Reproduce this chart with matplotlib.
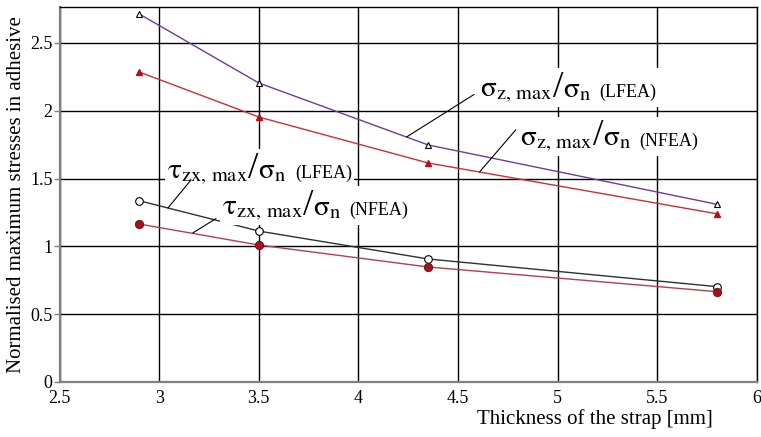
import matplotlib
matplotlib.use("Agg")
import matplotlib.pyplot as plt
from matplotlib.offsetbox import TextArea, HPacker, AnnotationBbox

plt.rcParams['font.family'] = ['Liberation Serif', 'DejaVu Serif']
plt.rcParams['mathtext.fontset'] = 'stix'

thickness = [2.9, 3.5, 4.35, 5.8]
sz_lfea = [2.714, 2.205, 1.748, 1.31]
sz_nfea = [2.286, 1.954, 1.615, 1.24]
tau_lfea = [1.337, 1.113, 0.907, 0.703]
tau_nfea = [1.165, 1.01, 0.848, 0.666]

xticks = [2.5, 3, 3.5, 4, 4.5, 5, 5.5, 6]
xticklabels = ['2.5', '3', '3.5', '4', '4.5', '5', '5.5', '6']
yticks = [0, 0.5, 1, 1.5, 2, 2.5]
yticklabels = ['0', '0.5', '1', '1.5', '2', '2.5']

fig = plt.figure(figsize=(7.61, 4.37), dpi=100)
ax = fig.add_axes([0.0782, 0.1259, 0.9165, 0.858])

ax.plot(thickness, sz_lfea, color='#6a3d9a', lw=1.0, marker='^', ms=5,
        mfc='white', mec='black', mew=0.8, zorder=3)
ax.plot(thickness, sz_nfea, color='#c8303a', lw=1.0, marker='^', ms=5,
        mfc='#b01020', mec='#b01020', zorder=3)
ax.plot(thickness, tau_lfea, color='#303030', lw=1.0, marker='o', ms=5.5,
        mfc='white', mec='black', mew=0.8, zorder=3)
ax.plot(thickness, tau_nfea, color='#b04050', lw=1.0, marker='o', ms=6,
        mfc='#a81020', mec='#601010', mew=0.6, zorder=3)

ax.set_xlim(2.5, 6)
ax.set_ylim(0, 2.765)
ax.set_xticks(xticks)
ax.set_xticklabels(xticklabels)
ax.set_yticks(yticks)
ax.set_yticklabels(yticklabels)
ax.tick_params(axis='both', labelsize=13, colors='black')
ax.tick_params(axis='x', length=0, pad=6)
ax.tick_params(axis='y', length=4, width=1, color='#808080', pad=1)
ax.grid(True, color='black', lw=1.0)
ax.set_axisbelow(True)
for s in ['top', 'right']:
    ax.spines[s].set_color('black')
    ax.spines[s].set_linewidth(1.0)
for s in ['left', 'bottom']:
    ax.spines[s].set_color('#808080')
    ax.spines[s].set_linewidth(1.6)

ax.set_ylabel('Normalised maximum stresses in adhesive', fontsize=15, labelpad=3)
ax.set_xlabel('Thickness of the strap [mm]', fontsize=15, x=0.768, labelpad=1)


def label(num, tag, xy):
    t1 = TextArea(num, textprops=dict(fontsize=21))
    ts = TextArea('/', textprops=dict(fontsize=27))
    t3 = TextArea(r'$\mathrm{\sigma}_{\mathrm{n}}$', textprops=dict(fontsize=21))
    t2 = TextArea(tag, textprops=dict(fontsize=13))
    inner = HPacker(children=[t1, ts, t3], align='baseline', pad=0, sep=0)
    box = HPacker(children=[inner, t2], align='baseline', pad=0, sep=6)
    ab = AnnotationBbox(box, xy, xycoords='data', box_alignment=(0, 0.5),
                        frameon=True, pad=0.15,
                        bboxprops=dict(facecolor='white', edgecolor='none'),
                        zorder=4)
    ax.add_artist(ab)


sz_txt = r'$\mathrm{\sigma}_{\mathrm{z,\,max}}$'
tau_txt = r'$\mathrm{\tau}_{\mathrm{zx,\,max}}$'

label(sz_txt, '(LFEA)', (4.61, 2.17))
label(sz_txt, '(NFEA)', (4.81, 1.81))
label(tau_txt, '(LFEA)', (3.04, 1.57))
label(tau_txt, '(NFEA)', (3.315, 1.30))

lk = dict(arrowstyle='-', color='black', lw=0.8, shrinkA=0, shrinkB=0)
ax.annotate('', xy=(4.242, 1.807), xytext=(4.58, 2.12), arrowprops=lk, zorder=5)
ax.annotate('', xy=(4.608, 1.549), xytext=(4.79, 1.86), arrowprops=lk, zorder=5)
ax.annotate('', xy=(3.044, 1.283), xytext=(3.16, 1.49), arrowprops=lk, zorder=5)
ax.annotate('', xy=(3.169, 1.099), xytext=(3.285, 1.205), arrowprops=lk, zorder=5)

fig.savefig('out.png', dpi=100)
